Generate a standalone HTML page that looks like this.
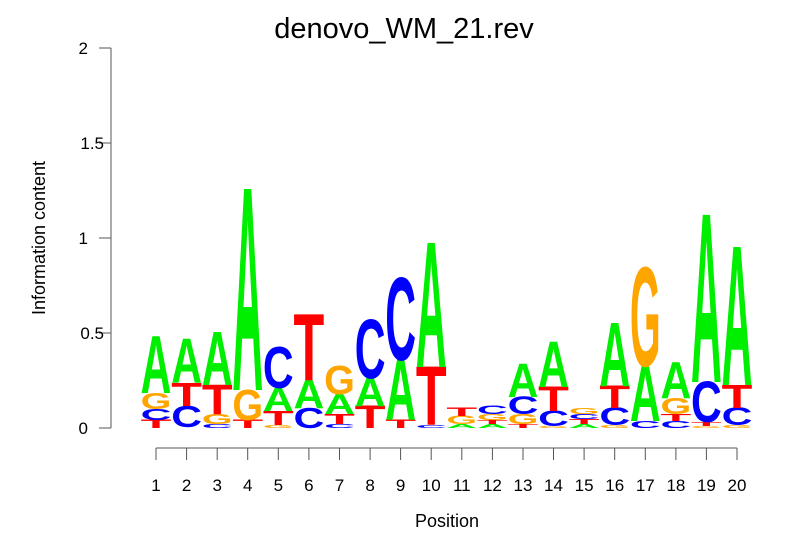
<!DOCTYPE html>
<html><head><meta charset="utf-8"><style>body{margin:0;background:#fff}svg{display:block}</style></head><body>
<svg width="806" height="559" viewBox="0 0 806 559" xmlns="http://www.w3.org/2000/svg" font-family="Liberation Sans, sans-serif">
<rect width="806" height="559" fill="#fff"/>
<text x="404" y="38" font-size="29" text-anchor="middle">denovo_WM_21.rev</text>
<g stroke="#555" stroke-width="1" fill="none">
<path d="M111 48V428M99 48H111M99 143H111M99 238H111M99 333H111M99 428H111"/>
<path d="M156 448H737"/>
</g>
<g font-size="17" text-anchor="end" fill="#000">
<text x="88" y="54">2</text><text x="104" y="149">1.5</text><text x="88" y="244">1</text><text x="104" y="339">0.5</text><text x="88" y="434">0</text>
</g>
<text transform="translate(45,238) rotate(-90)" font-size="18" text-anchor="middle">Information content</text>
<text x="447" y="527" font-size="18" text-anchor="middle">Position</text>
<g stroke="#555">
<path d="M156 448v12M186.6 448v12M217.2 448v12M247.7 448v12M278.3 448v12M308.9 448v12M339.5 448v12M370.1 448v12M400.6 448v12M431.2 448v12M461.8 448v12M492.4 448v12M523 448v12M553.5 448v12M584.1 448v12M614.7 448v12M645.3 448v12M675.9 448v12M706.4 448v12M737 448v12"/>
</g>
<g font-size="17" text-anchor="middle">
<text x="156" y="491">1</text><text x="186.6" y="491">2</text><text x="217.2" y="491">3</text><text x="247.7" y="491">4</text><text x="278.3" y="491">5</text><text x="308.9" y="491">6</text><text x="339.5" y="491">7</text><text x="370.1" y="491">8</text><text x="400.6" y="491">9</text><text x="431.2" y="491">10</text><text x="461.8" y="491">11</text><text x="492.4" y="491">12</text><text x="523" y="491">13</text><text x="553.5" y="491">14</text><text x="584.1" y="491">15</text><text x="614.7" y="491">16</text><text x="645.3" y="491">17</text><text x="675.9" y="491">18</text><text x="706.4" y="491">19</text><text x="737" y="491">20</text>
</g>
<g font-size="106" font-weight="bold" text-anchor="middle">
<text fill="#f00" transform="translate(156,428) scale(0.475,0.110)">T</text>
<text fill="#00f" transform="translate(156,420) scale(0.402,0.151)">C</text>
<text fill="#ffa500" transform="translate(156,409) scale(0.373,0.219)">G</text>
<text fill="#0e0" transform="translate(156,393) scale(0.402,0.782)">A</text>
<text fill="#00f" transform="translate(186.6,427) scale(0.402,0.288)">C</text>
<text fill="#f00" transform="translate(186.6,406) scale(0.475,0.316)">T</text>
<text fill="#0e0" transform="translate(186.6,383) scale(0.402,0.604)">A</text>
<text fill="#00f" transform="translate(217.2,428) scale(0.402,0.055)">C</text>
<text fill="#ffa500" transform="translate(217.2,424) scale(0.373,0.137)">G</text>
<text fill="#f00" transform="translate(217.2,414) scale(0.475,0.398)">T</text>
<text fill="#0e0" transform="translate(217.2,385) scale(0.402,0.727)">A</text>
<text fill="#f00" transform="translate(247.7,428) scale(0.475,0.110)">T</text>
<text fill="#ffa500" transform="translate(247.7,420) scale(0.373,0.412)">G</text>
<text fill="#0e0" transform="translate(247.7,390) scale(0.402,2.757)">A</text>
<text fill="#ffa500" transform="translate(278.3,428) scale(0.373,0.041)">G</text>
<text fill="#f00" transform="translate(278.3,425) scale(0.475,0.192)">T</text>
<text fill="#0e0" transform="translate(278.3,411) scale(0.402,0.316)">A</text>
<text fill="#00f" transform="translate(278.3,388) scale(0.402,0.562)">C</text>
<text fill="#00f" transform="translate(308.9,428) scale(0.402,0.274)">C</text>
<text fill="#0e0" transform="translate(308.9,408) scale(0.402,0.384)">A</text>
<text fill="#f00" transform="translate(308.9,380) scale(0.475,0.905)">T</text>
<text fill="#00f" transform="translate(339.5,428) scale(0.402,0.055)">C</text>
<text fill="#f00" transform="translate(339.5,424) scale(0.475,0.137)">T</text>
<text fill="#0e0" transform="translate(339.5,414) scale(0.402,0.274)">A</text>
<text fill="#ffa500" transform="translate(339.5,394) scale(0.373,0.384)">G</text>
<text fill="#f00" transform="translate(370.1,428) scale(0.475,0.302)">T</text>
<text fill="#0e0" transform="translate(370.1,406) scale(0.402,0.384)">A</text>
<text fill="#00f" transform="translate(370.1,378) scale(0.402,0.796)">C</text>
<text fill="#f00" transform="translate(400.6,428) scale(0.475,0.110)">T</text>
<text fill="#0e0" transform="translate(400.6,420) scale(0.402,0.823)">A</text>
<text fill="#00f" transform="translate(400.6,360) scale(0.402,1.125)">C</text>
<text fill="#00f" transform="translate(431.2,428) scale(0.402,0.041)">C</text>
<text fill="#f00" transform="translate(431.2,425) scale(0.475,0.796)">T</text>
<text fill="#0e0" transform="translate(431.2,367) scale(0.402,1.701)">A</text>
<text fill="#0e0" transform="translate(461.8,428) scale(0.402,0.055)">A</text>
<text fill="#ffa500" transform="translate(461.8,424) scale(0.373,0.110)">G</text>
<text fill="#f00" transform="translate(461.8,416) scale(0.475,0.110)">T</text>
<text fill="#0e0" transform="translate(492.4,428) scale(0.402,0.055)">A</text>
<text fill="#f00" transform="translate(492.4,424) scale(0.475,0.055)">T</text>
<text fill="#ffa500" transform="translate(492.4,420) scale(0.373,0.082)">G</text>
<text fill="#00f" transform="translate(492.4,414) scale(0.402,0.110)">C</text>
<text fill="#f00" transform="translate(523,428) scale(0.475,0.055)">T</text>
<text fill="#ffa500" transform="translate(523,424) scale(0.373,0.137)">G</text>
<text fill="#00f" transform="translate(523,414) scale(0.402,0.233)">C</text>
<text fill="#0e0" transform="translate(523,397) scale(0.402,0.453)">A</text>
<text fill="#ffa500" transform="translate(553.5,428) scale(0.373,0.027)">G</text>
<text fill="#00f" transform="translate(553.5,426) scale(0.402,0.206)">C</text>
<text fill="#f00" transform="translate(553.5,411) scale(0.475,0.329)">T</text>
<text fill="#0e0" transform="translate(553.5,387) scale(0.402,0.617)">A</text>
<text fill="#0e0" transform="translate(584.1,428) scale(0.402,0.055)">A</text>
<text fill="#f00" transform="translate(584.1,424) scale(0.475,0.069)">T</text>
<text fill="#00f" transform="translate(584.1,419) scale(0.402,0.069)">C</text>
<text fill="#ffa500" transform="translate(584.1,414) scale(0.373,0.082)">G</text>
<text fill="#ffa500" transform="translate(614.7,428) scale(0.373,0.041)">G</text>
<text fill="#00f" transform="translate(614.7,425) scale(0.402,0.233)">C</text>
<text fill="#f00" transform="translate(614.7,408) scale(0.475,0.302)">T</text>
<text fill="#0e0" transform="translate(614.7,386) scale(0.402,0.864)">A</text>
<text fill="#00f" transform="translate(645.3,428) scale(0.402,0.096)">C</text>
<text fill="#0e0" transform="translate(645.3,421) scale(0.402,0.755)">A</text>
<text fill="#ffa500" transform="translate(645.3,366) scale(0.373,1.344)">G</text>
<text fill="#00f" transform="translate(675.9,428) scale(0.402,0.096)">C</text>
<text fill="#f00" transform="translate(675.9,421) scale(0.475,0.096)">T</text>
<text fill="#ffa500" transform="translate(675.9,414) scale(0.373,0.219)">G</text>
<text fill="#0e0" transform="translate(675.9,398) scale(0.402,0.494)">A</text>
<text fill="#ffa500" transform="translate(706.4,428) scale(0.373,0.027)">G</text>
<text fill="#f00" transform="translate(706.4,426) scale(0.475,0.055)">T</text>
<text fill="#00f" transform="translate(706.4,422) scale(0.402,0.549)">C</text>
<text fill="#0e0" transform="translate(706.4,382) scale(0.402,2.291)">A</text>
<text fill="#ffa500" transform="translate(737,428) scale(0.373,0.041)">G</text>
<text fill="#00f" transform="translate(737,425) scale(0.402,0.233)">C</text>
<text fill="#f00" transform="translate(737,408) scale(0.475,0.316)">T</text>
<text fill="#0e0" transform="translate(737,385) scale(0.402,1.893)">A</text>
</g>
</svg>
</body></html>
